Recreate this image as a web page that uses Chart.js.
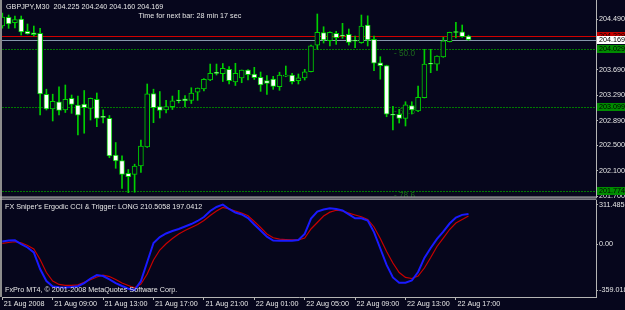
<!DOCTYPE html>
<html>
<head>
<meta charset="utf-8">
<script src="https://cdn.jsdelivr.net/npm/chart.js@4.4.1/dist/chart.umd.min.js"></script>
<style>
  html, body { margin:0; padding:0; background:#06061c; overflow:hidden; }
  #wrap { position:relative; width:625px; height:310px; background:#06061c; }
  #wrap canvas { position:absolute; left:0; }
  #priceCanvas { top:0; }
  #oscCanvas { top:198px; }
</style>
</head>
<body>
<div id="wrap">
  <canvas id="priceCanvas" width="625" height="198"></canvas>
  <canvas id="oscCanvas" width="625" height="112"></canvas>
</div>
<script>
// ---------------- DATA ----------------
const symbolTitle = 'GBPJPY,M30';
const timerText = 'Time for next bar: 28 min 17 sec';
const indicatorTitle = "FX Sniper's Ergodic CCI & Trigger: LONG 210.5058 197.0412";
const copyrightText = 'FxPro MT4, \u00A9 2001-2008 MetaQuotes Software Corp.';

// 30-minute bars, 21 Aug 2008 05:00 .. 22 Aug 2008 18:00
const opens = [204.384,204.522,204.436,204.495,204.302,204.277,204.269,203.306,203.077,203.189,
  203.058,203.243,203.137,203.150,203.085,203.227,202.945,202.927,202.345,202.258,
  202.059,202.043,202.174,202.474,203.319,203.114,203.058,203.110,203.219,203.235,
  203.211,203.338,203.390,203.532,203.638,203.631,203.701,203.503,203.563,203.690,
  203.627,203.575,203.521,203.545,203.426,203.592,203.611,203.521,203.563,203.663,
  204.080,204.282,204.152,204.269,204.230,204.253,204.151,204.121,204.400,204.174,
  203.805,203.761,202.979,202.992,202.927,203.129,203.042,203.252,203.784,203.780,
  203.895,204.136,204.285,204.294,204.225];
const highs = [204.589,204.558,204.542,204.542,204.416,204.384,204.348,203.387,203.308,203.426,
  203.453,203.295,203.279,203.366,203.248,203.327,203.063,202.971,202.545,202.335,
  202.119,202.203,202.585,203.469,203.387,203.350,203.211,203.279,203.369,203.287,
  203.410,203.406,203.556,203.784,203.784,203.792,203.742,203.796,203.690,203.695,
  203.732,203.658,203.603,203.590,203.655,203.753,203.638,203.627,203.701,204.084,
  204.574,204.373,204.294,204.301,204.427,204.337,204.226,204.558,204.545,204.226,
  203.900,203.766,203.118,203.069,203.189,203.189,203.437,204.016,204.016,203.914,
  204.206,204.288,204.443,204.400,204.240];
const lows = [204.350,204.348,204.353,204.242,204.255,204.226,202.979,203.058,202.885,202.979,
  203.019,203.006,202.664,202.692,202.900,202.795,202.853,202.305,202.138,201.822,
  201.753,201.760,202.072,202.467,202.858,202.932,203.011,203.066,203.169,203.110,
  203.161,203.211,203.358,203.521,203.611,203.508,203.469,203.445,203.489,203.532,
  203.540,203.353,203.306,203.385,203.369,203.584,203.469,203.469,203.532,203.658,
  204.016,204.116,204.069,204.095,204.190,204.084,204.042,204.111,204.069,203.679,
  203.545,202.952,202.743,202.853,202.806,202.995,203.031,203.248,203.647,203.685,
  203.890,204.132,204.195,204.206,204.160];
const closes = [204.526,204.416,204.484,204.290,204.261,204.248,203.311,203.077,203.197,203.053,
  203.227,203.148,202.976,203.095,203.243,202.927,202.943,202.332,202.253,202.043,
  202.005,202.174,202.490,203.314,203.095,203.053,203.114,203.205,203.205,203.204,
  203.327,203.406,203.543,203.638,203.636,203.717,203.521,203.638,203.690,203.617,
  203.568,203.453,203.477,203.432,203.611,203.608,203.505,203.568,203.663,204.073,
  204.285,204.163,204.285,204.200,204.226,204.124,204.144,204.384,204.163,203.796,
  203.758,202.992,202.976,202.927,203.140,203.058,203.259,203.784,203.780,203.911,
  204.152,204.285,204.282,204.215,204.169];

// Ergodic CCI (blue) and its trigger (red), one value per bar
const ergodic = [22,30,31,2,-25,-64,-194,-288,-331,-337,
  -339,-335,-329,-304,-268,-241,-249,-276,-304,-327,
  -348,-359,-288,-139,10,57,85,104,120,140,
  159,183,214,261,293,311.49,277,249,234,206,
  155,108,60,30,28,28,28,34,81,202,
  257,273,282,277,265,234,204,204,187,96,
  -33,-162,-260,-301,-301,-284,-217,-107,-29,42,
  99,163,210,231,238];
const trigger = [8,14,20,12,-9,-37,-119,-221,-288,-315,
  -322,-322,-318,-298,-278,-256,-241,-253,-276,-304,
  -323,-341,-311,-233,-123,-45,4,45,81,108,
  132,155,187,226,261,289,277,261,245,224,
  179,132,81,51,40,37,34,34,49,120,
  171,222,252,267,261,245,230,216,195,136,
  45,-56,-147,-221,-260,-268,-249,-186,-104,-17,
  49,116,167,195,222];

const priceTicks = [204.490, 203.690, 203.290, 202.890, 202.500, 202.100, 201.700];
const askPrice = 204.229;
const bidPrice = 204.169;
const fiboPrices = [204.029, 203.099, 201.774];
const fiboLabels = ['50.0', '61.8', '78.6'];

const oscTicks = [311.4855, 0, -359.018];
const oscTickLabels = ['311.4855', '0.00', '-359.018'];

const timeTickBars = [0, 8, 16, 24, 32, 40, 48, 56, 64, 72];
const timeTickLabels = ['21 Aug 2008', '21 Aug 09:00', '21 Aug 13:00', '21 Aug 17:00', '21 Aug 21:00',
  '22 Aug 01:00', '22 Aug 05:00', '22 Aug 09:00', '22 Aug 13:00', '22 Aug 17:00'];

// ---------------- STYLE ----------------
const BG = '#06061c';
const FRAME = '#b4b4b4';
const TXT = '#e6e6e6';
const CANDLE = '#00d000';
const FAM = "'Liberation Sans', Arial, sans-serif";
const FS = 7.2;
const FONT = FS + 'px ' + FAM;
const X_MIN = -0.05, X_MAX = 94.24;
const P_MIN = 201.685, P_MAX = 204.795;
const O_MIN = -413.3, O_MAX = 347.5;

const idx = opens.map((_, i) => i);

function noLabelPadding(s) {
  s.paddingTop = 0; s.paddingBottom = 0; s.paddingLeft = 0; s.paddingRight = 0;
}

function priceTag(ctx, scale, price, bg, fg) {
  const y = Math.round(scale.getPixelForValue(price));
  ctx.fillStyle = bg;
  ctx.fillRect(597, y - 4, 28, 8);
  ctx.fillStyle = fg;
  ctx.font = FONT;
  ctx.textAlign = 'left';
  ctx.textBaseline = 'middle';
  ctx.fillText(price.toFixed(3), 599, y + 0.5);
}

const mainDecor = {
  id: 'mainDecor',
  beforeDraw(chart) {
    const ctx = chart.ctx;
    ctx.save();
    ctx.fillStyle = BG;
    ctx.fillRect(0, 0, chart.width, chart.height);
    ctx.restore();
  },
  beforeDatasetsDraw(chart) {
    const ctx = chart.ctx, a = chart.chartArea, ys = chart.scales.y;
    ctx.save();
    ctx.beginPath(); ctx.rect(a.left, a.top, a.right - a.left, a.bottom - a.top); ctx.clip();
    // fibo levels
    fiboPrices.forEach((p, k) => {
      const y = Math.round(ys.getPixelForValue(p)) + 0.5;
      ctx.strokeStyle = '#007a00';
      ctx.lineWidth = 1;
      ctx.setLineDash([2, 1]);
      ctx.beginPath(); ctx.moveTo(a.left, y); ctx.lineTo(a.right, y); ctx.stroke();
      ctx.setLineDash([]);
      ctx.fillStyle = '#1d6a1d';
      ctx.font = (FS + 1) + 'px ' + FAM;
      ctx.textAlign = 'left';
      ctx.textBaseline = 'middle';
      ctx.fillText('- ' + fiboLabels[k], 394, y + 4.5);
    });
    // ask & bid lines
    let y = Math.round(ys.getPixelForValue(askPrice)) + 0.5;
    ctx.lineWidth = 1;
    ctx.strokeStyle = '#d00000';
    ctx.beginPath(); ctx.moveTo(a.left, y); ctx.lineTo(a.right, y); ctx.stroke();
    y = Math.round(ys.getPixelForValue(bidPrice)) + 0.5;
    ctx.strokeStyle = '#8796ab';
    ctx.beginPath(); ctx.moveTo(a.left, y); ctx.lineTo(a.right, y); ctx.stroke();
    ctx.restore();
  },
  afterDraw(chart) {
    const ctx = chart.ctx, ys = chart.scales.y;
    ctx.save();
    priceTag(ctx, ys, askPrice, '#c80000', '#000000');
    priceTag(ctx, ys, bidPrice, '#ffffff', '#000000');
    fiboPrices.forEach(p => priceTag(ctx, ys, p, '#008c00', '#000000'));
    // header texts
    ctx.fillStyle = TXT;
    ctx.font = FONT;
    ctx.textAlign = 'left';
    ctx.textBaseline = 'middle';
    ctx.fillText(symbolTitle + '  ' + [opens[74], highs[74], lows[74], closes[74]].map(v => v.toFixed(3)).join(' '), 6, 7.5);
    ctx.fillText(timerText, 138.5, 16);
    // frame
    ctx.fillStyle = '#8c8c8c';
    ctx.fillRect(0, 0, 2, chart.height);
    ctx.fillStyle = FRAME;
    ctx.fillRect(0, 196.5, 596.5, 1.2);
    ctx.restore();
  }
};

new Chart(document.getElementById('priceCanvas'), {
  type: 'bar',
  data: {
    datasets: [
      {
        label: 'wicks',
        data: idx.map(i => ({ x: i, y: [lows[i], highs[i]] })),
        backgroundColor: CANDLE,
        borderWidth: 0,
        barThickness: 1,
        grouped: false,
        order: 2
      },
      {
        label: 'bodies',
        data: idx.map(i => ({ x: i, y: [Math.min(opens[i], closes[i]), Math.max(opens[i], closes[i])] })),
        backgroundColor: idx.map(i => closes[i] < opens[i] ? '#ffffff' : BG),
        borderColor: CANDLE,
        borderWidth: 1,
        borderSkipped: false,
        barThickness: 5,
        minBarLength: 1,
        grouped: false,
        order: 1
      }
    ]
  },
  options: {
    responsive: false,
    animation: false,
    devicePixelRatio: 1,
    layout: { padding: { left: 2, top: 0, right: 0, bottom: 1 } },
    plugins: { legend: { display: false }, tooltip: { enabled: false } },
    scales: {
      x: { type: 'linear', min: X_MIN, max: X_MAX, offset: false, display: false },
      y: {
        type: 'linear', position: 'right', min: P_MIN, max: P_MAX,
        afterFit: s => { s.width = 29; noLabelPadding(s); },
        afterBuildTicks: s => { s.ticks = priceTicks.map(v => ({ value: v })); },
        ticks: { callback: (v, i) => priceTicks[i].toFixed(3), color: TXT, font: { family: FAM, size: FS }, padding: 1, autoSkip: false },
        grid: { drawOnChartArea: false, drawTicks: true, tickLength: 2, color: FRAME },
        border: { display: true, color: FRAME, width: 1 }
      }
    }
  },
  plugins: [mainDecor]
});

const oscDecor = {
  id: 'oscDecor',
  beforeDraw(chart) {
    const ctx = chart.ctx;
    ctx.save();
    ctx.fillStyle = BG;
    ctx.fillRect(0, 0, chart.width, chart.height);
    ctx.restore();
  },
  afterDatasetsDraw(chart) {
    const ctx = chart.ctx;
    ctx.save();
    ctx.fillStyle = TXT;
    ctx.font = FONT;
    ctx.textAlign = 'left';
    ctx.textBaseline = 'middle';
    ctx.fillText(indicatorTitle, 5, 9);
    ctx.fillText(copyrightText, 5, 92);
    ctx.restore();
  },
  afterDraw(chart) {
    const ctx = chart.ctx;
    ctx.save();
    ctx.fillStyle = '#8c8c8c';
    ctx.fillRect(0, 0, 2, 99);
    ctx.fillStyle = FRAME;
    ctx.fillRect(0, 0.5, 596.5, 1.2);
    ctx.restore();
  }
};

new Chart(document.getElementById('oscCanvas'), {
  type: 'line',
  data: {
    datasets: [
      { label: 'Ergodic CCI', data: idx.map(i => ({ x: i, y: ergodic[i] })), borderColor: '#1a1aff', borderWidth: 2, pointRadius: 0, tension: 0 },
      { label: 'Trigger', data: idx.map(i => ({ x: i, y: trigger[i] })), borderColor: '#c80000', borderWidth: 1.2, pointRadius: 0, tension: 0 }
    ]
  },
  options: {
    responsive: false,
    animation: false,
    devicePixelRatio: 1,
    layout: { padding: { left: 2, top: 2, right: 0, bottom: 0 } },
    plugins: { legend: { display: false }, tooltip: { enabled: false } },
    scales: {
      x: {
        type: 'linear', position: 'bottom', min: X_MIN, max: X_MAX, offset: false,
        afterFit: s => { s.height = 13; noLabelPadding(s); },
        afterBuildTicks: s => { s.ticks = timeTickBars.map(v => ({ value: v })); },
        ticks: { autoSkip: false, maxRotation: 0, minRotation: 0, align: 'start', labelOffset: 1.5, padding: 0,
                 color: TXT, font: { family: FAM, size: FS }, callback: (v, i) => timeTickLabels[i] },
        grid: { drawOnChartArea: false, drawTicks: true, tickLength: 3, color: FRAME },
        border: { display: true, color: FRAME, width: 1 }
      },
      y: {
        type: 'linear', position: 'right', min: O_MIN, max: O_MAX,
        afterFit: s => { s.width = 29; noLabelPadding(s); },
        afterBuildTicks: s => { s.ticks = oscTicks.map(v => ({ value: v })); },
        ticks: { callback: (v, i) => oscTickLabels[i], color: TXT, font: { family: FAM, size: FS }, padding: 1, autoSkip: false },
        grid: { drawOnChartArea: false, drawTicks: true, tickLength: 2, color: FRAME },
        border: { display: true, color: FRAME, width: 1 }
      }
    }
  },
  plugins: [oscDecor]
});
</script>
</body>
</html>
